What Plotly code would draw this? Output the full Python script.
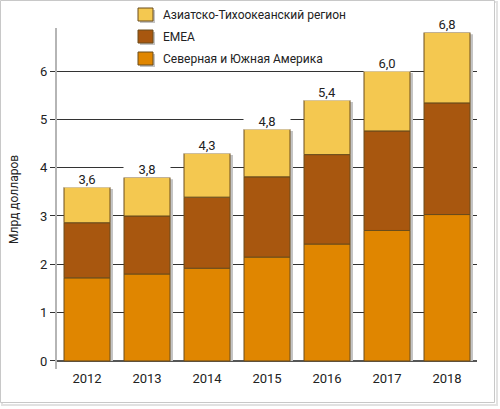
import plotly.graph_objects as go
import numpy as np

years = ['2012', '2013', '2014', '2015', '2016', '2017', '2018']
americas = [1.72, 1.80, 1.92, 2.15, 2.42, 2.70, 3.03]
emea = [1.14, 1.20, 1.47, 1.66, 1.85, 2.06, 2.31]
apac = [0.74, 0.80, 0.91, 0.99, 1.13, 1.24, 1.46]
totals = [3.6, 3.8, 4.3, 4.8, 5.4, 6.0, 6.8]
total_labels = ['3,6', '3,8', '4,3', '4,8', '5,4', '6,0', '6,8']
series_names = ['Северная и Южная Америка', 'EMEA', 'Азиатско-Тихоокеанский регион']
y_ticks = [0, 1, 2, 3, 4, 5, 6]

colors = ['#E08600', '#A8570F', '#F4C850']
outline = '#6a4c1c'
FONT = 'Roboto, Liberation Sans, sans-serif'
FS = 12

# plot area in pixels (for placing legend / frame in paper coords)
L, R, T, B = 57, 477, 28, 369


def px(x):
    return (x - L) / (R - L)


def py(y):
    return (B - y) / (B - T)


bw = 46 / 60
fig = go.Figure()

# soft shadow behind bars
fig.add_trace(go.Bar(
    x=years, y=np.array(totals) - 0.04, base=0, width=bw, offset=-bw / 2 + 3 / 60,
    marker=dict(color='#c4c4c4', line=dict(width=0)),
    hoverinfo='skip', showlegend=False,
))

base = np.zeros(len(years))
for name, vals, col in zip(series_names, [americas, emea, apac], colors):
    fig.add_trace(go.Bar(
        x=years, y=vals, base=base.copy(), width=bw, offset=-bw / 2,
        name=name,
        marker=dict(color=col, line=dict(color=outline, width=1)),
        showlegend=False,
    ))
    base += np.array(vals)

annotations = []
for i, (tot, lab) in enumerate(zip(totals, total_labels)):
    annotations.append(dict(
        x=i, y=tot, text=lab, showarrow=False, yanchor='bottom', yshift=-1,
        width=46, bgcolor='white', borderpad=0,
        font=dict(family=FONT, size=FS + 1, color='#222'),
    ))

# legend drawn manually, top entry first
shapes = []
legend_rows = [(series_names[2], colors[2], 15), (series_names[1], colors[1], 37), (series_names[0], colors[0], 59)]
for name, col, yc in legend_rows:
    shapes.append(dict(type='rect', xref='paper', yref='paper',
                       x0=px(140), x1=px(155), y0=py(yc + 8), y1=py(yc - 5),
                       fillcolor='#c4c4c4', line=dict(width=0)))
    shapes.append(dict(type='rect', xref='paper', yref='paper',
                       x0=px(138), x1=px(153), y0=py(yc + 6), y1=py(yc - 7),
                       fillcolor=col, line=dict(color=outline, width=1)))
    annotations.append(dict(
        xref='paper', yref='paper', x=px(161), y=py(yc), text=name, showarrow=False,
        xanchor='left', yanchor='middle',
        font=dict(family=FONT, size=FS, color='#222'),
    ))

annotations.append(dict(
    xref='paper', yref='paper', x=px(14), y=py(200), text='Млрд долларов', showarrow=False,
    textangle=-90, xanchor='center', yanchor='middle',
    font=dict(family=FONT, size=FS, color='#222'),
))

# outer frame with shadow
shapes.append(dict(type='rect', xref='paper', yref='paper', x0=px(2), x1=px(497), y0=py(405), y1=py(2),
                   line=dict(color='#e2e2e2', width=2), layer='below'))
shapes.append(dict(type='rect', xref='paper', yref='paper', x0=px(0.5), x1=px(494.5), y0=py(402.5), y1=py(0.5),
                   line=dict(color='#c8c8c8', width=1), fillcolor='white', layer='below'))

fig.update_layout(
    width=500, height=409,
    margin=dict(l=L, r=500 - R, t=T, b=409 - B),
    barmode='overlay',
    plot_bgcolor='rgba(0,0,0,0)', paper_bgcolor='white',
    showlegend=False,
    font=dict(family=FONT, size=FS, color='#222'),
    annotations=annotations, shapes=shapes,
)
fig.update_xaxes(
    type='category', range=[-0.5, 6.5], showgrid=False, showline=False, ticks='',
    tickfont=dict(family=FONT, size=FS + 1, color='#222'),
)
fig.update_yaxes(
    range=[-0.166, 6.89], tickvals=y_ticks,
    showgrid=True, gridcolor='#333', gridwidth=1,
    zeroline=True, zerolinecolor='#555', zerolinewidth=2,
    showline=True, linecolor='#b5b5b5', linewidth=2,
    ticks='outside', ticklen=5, tickcolor='#333',
    tickfont=dict(family=FONT, size=FS + 1, color='#222'),
)

# page body has a default 8px margin; remove it so the figure sits at the window origin
fig.write_html('out.html', config={'displayModeBar': False},
               post_script="document.body.style.margin='0px';")
